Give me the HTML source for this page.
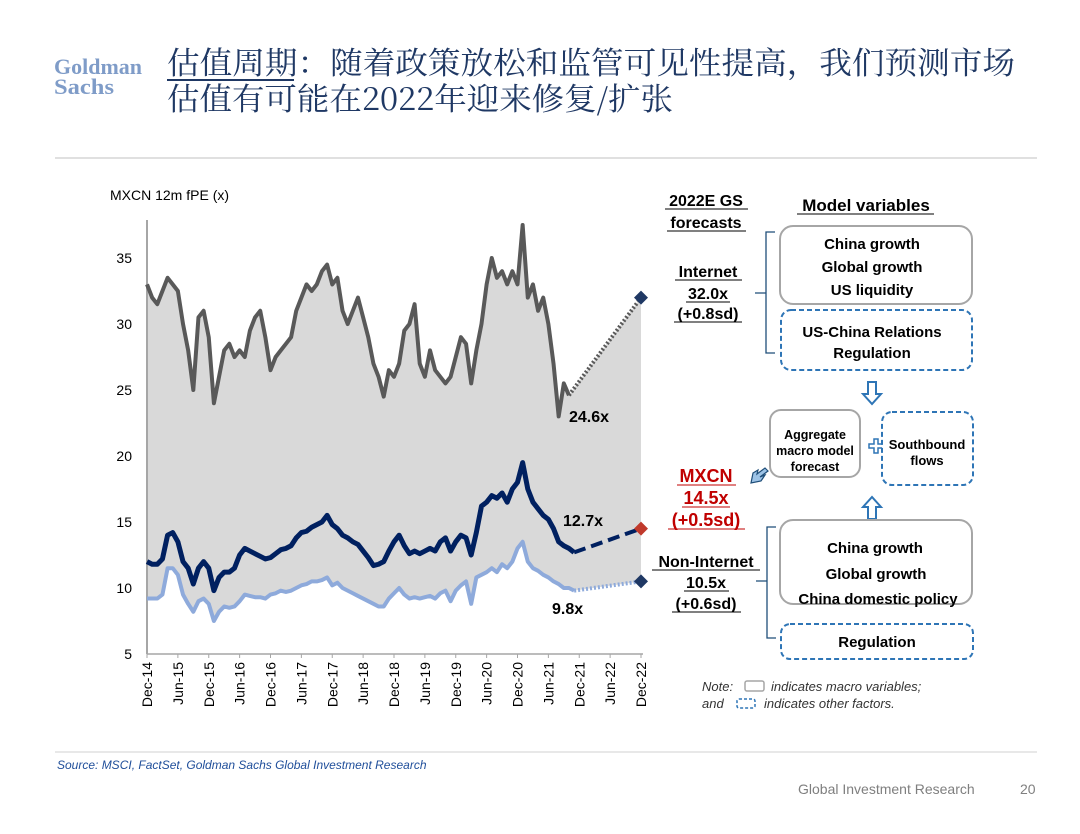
<!DOCTYPE html>
<html><head><meta charset="utf-8">
<style>
html,body{margin:0;padding:0;background:#fff;}
body{width:1080px;height:834px;overflow:hidden;position:relative;font-family:"Liberation Sans","Noto Sans CJK SC",sans-serif;}
svg{position:absolute;left:0;top:0;}
</style></head>
<body>
<svg id="page" width="1080" height="834" viewBox="0 0 1080 834" xmlns="http://www.w3.org/2000/svg">
  <g font-family="'Liberation Serif',serif" font-weight="bold" fill="#7f9cc8" font-size="22">
    <text x="54" y="74" textLength="88" lengthAdjust="spacingAndGlyphs">Goldman</text>
    <text x="54" y="94" textLength="60" lengthAdjust="spacingAndGlyphs">Sachs</text>
  </g>
  <g font-family="'Noto Serif CJK SC','Noto Sans CJK SC',serif" font-size="31" fill="#1f3864">
    <text x="167" y="74" textLength="848" lengthAdjust="spacingAndGlyphs">估值周期：随着政策放松和监管可见性提高，我们预测市场</text>
    <text x="167" y="110" textLength="506" lengthAdjust="spacingAndGlyphs">估值有可能在2022年迎来修复/扩张</text>
    <line x1="167" y1="80" x2="294" y2="80" stroke="#1f3864" stroke-width="2"/>
  </g>
  <line x1="55" y1="158" x2="1037" y2="158" stroke="#e0e0e0" stroke-width="2"/>

  <g id="chart"></g>

  <!-- right panel -->
  <g font-family="'Liberation Sans',sans-serif" font-weight="bold" text-anchor="middle">
    <g font-size="16" fill="#000">
      <text x="706" y="206">2022E GS</text><text x="706" y="228">forecasts</text>
      <line x1="665" y1="209" x2="748" y2="209" stroke="#000"/><line x1="667" y1="231" x2="746" y2="231" stroke="#000"/>
    </g>
    <g font-size="17">
      <text x="866" y="211">Model variables</text>
      <line x1="797" y1="214" x2="934" y2="214" stroke="#000"/>
    </g>
    <g font-size="16">
      <text x="708" y="277">Internet</text><text x="708" y="299">32.0x</text><text x="708" y="319">(+0.8sd)</text>
      <line x1="675" y1="280" x2="742" y2="280" stroke="#000"/><line x1="686" y1="302" x2="730" y2="302" stroke="#000"/><line x1="674" y1="322" x2="742" y2="322" stroke="#000"/>
    </g>
    <path d="M775 232 H766 V353 H775 M766 293 H755" fill="none" stroke="#1f4e79" stroke-width="1.3"/>
    <rect x="780" y="226" width="192" height="78" rx="13" fill="#fff" stroke="#a6a6a6" stroke-width="2"/>
    <g font-size="15"><text x="872" y="249">China growth</text><text x="872" y="272">Global growth</text><text x="872" y="295">US liquidity</text></g>
    <rect x="781" y="310" width="191" height="60" rx="10" fill="#fff" stroke="#2e75b6" stroke-width="2" stroke-dasharray="5,3"/>
    <g font-size="15"><text x="872" y="337">US-China Relations</text><text x="872" y="358">Regulation</text></g>
    <path d="M868 382 h8 v12 h5 l-9 10 l-9 -10 h5 z" fill="#fff" stroke="#2e75b6" stroke-width="2"/>
    <rect x="770" y="410" width="90" height="67" rx="11" fill="#fff" stroke="#a6a6a6" stroke-width="2"/>
    <g font-size="12.5"><text x="815" y="439">Aggregate</text><text x="815" y="455">macro model</text><text x="815" y="471">forecast</text></g>
    <path d="M869 444 h5 v-5 h4 v5 h5 v4 h-5 v5 h-4 v-5 h-5 z" fill="#fff" stroke="#2e75b6" stroke-width="1.5"/>
    <rect x="882" y="412" width="91" height="73" rx="10" fill="#fff" stroke="#2e75b6" stroke-width="2" stroke-dasharray="5,3"/>
    <g font-size="13"><text x="927" y="449">Southbound</text><text x="927" y="465">flows</text></g>
    <path d="M868 519 h8 v-12 h5 l-9 -10 l-9 10 h5 z" fill="#fff" stroke="#2e75b6" stroke-width="2"/>
    <path d="M765 475 l-4 6 l-10 2 l2 -10 l5 -3 l-1 4 l8 -6 l3 3 l-8 6 z" fill="#9dc3e6" stroke="#1f4e79" stroke-width="1.2"/>
    <g font-size="18" fill="#c00000">
      <text x="706" y="482">MXCN</text><text x="706" y="504">14.5x</text><text x="706" y="526">(+0.5sd)</text>
      <line x1="677" y1="485" x2="736" y2="485" stroke="#c00000"/><line x1="682" y1="507" x2="730" y2="507" stroke="#c00000"/><line x1="668" y1="529" x2="745" y2="529" stroke="#c00000"/>
    </g>
    <g font-size="16">
      <text x="706" y="567">Non-Internet</text><text x="706" y="588">10.5x</text><text x="706" y="609">(+0.6sd)</text>
      <line x1="652" y1="570" x2="760" y2="570" stroke="#000"/><line x1="684" y1="591" x2="729" y2="591" stroke="#000"/><line x1="672" y1="612" x2="741" y2="612" stroke="#000"/>
    </g>
    <path d="M776 527 H767 V638 H776 M767 581 H756" fill="none" stroke="#1f4e79" stroke-width="1.3"/>
    <rect x="780" y="520" width="192" height="84" rx="13" fill="#fff" stroke="#a6a6a6" stroke-width="2"/>
    <g font-size="15"><text x="875" y="553">China growth</text><text x="876" y="579">Global growth</text><text x="878" y="604">China domestic policy</text></g>
    <rect x="781" y="624" width="192" height="35" rx="9" fill="#fff" stroke="#2e75b6" stroke-width="2" stroke-dasharray="5,3"/>
    <text x="877" y="647" font-size="15">Regulation</text>
  </g>
  <g font-family="'Liberation Sans',sans-serif" font-style="italic" font-size="13" fill="#333">
    <text x="702" y="691">Note:</text>
    <rect x="745" y="681" width="19" height="10" rx="2" fill="none" stroke="#a6a6a6" stroke-width="1.5"/>
    <text x="771" y="691">indicates macro variables;</text>
    <text x="702" y="708">and</text>
    <rect x="737" y="699" width="18" height="9" rx="2" fill="none" stroke="#2e75b6" stroke-width="1.5" stroke-dasharray="3,2"/>
    <text x="764" y="708">indicates other factors.</text>
  </g>
  <line x1="55" y1="752" x2="1037" y2="752" stroke="#e0e0e0" stroke-width="1.5"/>
  <text x="57" y="769" font-family="'Liberation Sans',sans-serif" font-style="italic" font-size="12" fill="#1f4e9a">Source: MSCI, FactSet, Goldman Sachs Global Investment Research</text>
  <text x="798" y="794" font-family="'Liberation Sans',sans-serif" font-size="14" fill="#7f7f7f">Global Investment Research</text>
  <text x="1020" y="794" font-family="'Liberation Sans',sans-serif" font-size="14" fill="#7f7f7f">20</text>
</svg>
<script>
// monthly data starting Dec-14
const internet = [33,
 32,31.5,32.5,33.5,33,32.5,30,28,25,30.5,31,29,
 24,26,28,28.5,27.5,28,27.5,29.5,30.5,31,29,26.5,
 27.5,28,28.5,29,31,32,33,32.5,33,34,34.5,33,
 33.5,31,30,31,32,30.5,29,27,26,24.5,26.5,26,
 27,29.5,30,31.5,27,26,28,26.5,26,25.5,26,27.5,
 29,28.5,25.5,28,30,33,35,33.5,34,33,34,33,
 37.5,32,33,31,32,30,27,23,25.5,24.6];
const mxcn = [12,
 11.8,11.8,12.2,14,14.2,13.5,12,11.5,10.3,11.5,12,11.5,
 9.8,10.8,11.2,11.2,11.5,12.5,13,12.8,12.6,12.4,12.2,12.3,
 12.6,12.9,13,13.2,13.8,14.2,14.3,14.6,14.8,15,15.5,14.8,
 14.5,14,13.8,13.5,13.3,12.8,12.3,11.7,11.8,12,12.8,13.5,
 14,13.2,12.6,12.8,12.6,12.8,13,12.8,13.5,13.8,12.8,13.5,
 14,13.8,12.5,14.2,16.2,16.5,17,16.8,17.2,16.5,17.5,18,
 19.5,17.5,16.5,16,15.5,15.2,14.5,13.5,13.2,13,12.7];
const nonInternet = [9.2,
 9.2,9.2,9.5,11.5,11.5,11,9.5,8.8,8.2,9,9.2,8.8,
 7.5,8.2,8.6,8.5,8.6,9,9.5,9.4,9.3,9.3,9.2,9.5,
 9.6,9.8,9.7,9.8,10,10.2,10.3,10.5,10.5,10.6,10.8,10.2,
 10.4,10,9.8,9.6,9.4,9.2,9,8.8,8.6,8.6,9.2,9.6,
 10,9.5,9.2,9.3,9.2,9.3,9.4,9.2,9.6,9.8,9,9.8,
 10.2,10.5,8.8,10.8,11,11.2,11.5,11.2,11.8,11.5,12,13,
 13.5,12,11.5,11.3,11,10.8,10.5,10.3,10,10,9.8];
const forecastInternet = 32.0;
const forecastMxcn = 14.5;
const forecastNonInternet = 10.5;
const yTicks = [5,10,15,20,25,30,35];
const xTickLabels = ["Dec-14","Jun-15","Dec-15","Jun-16","Dec-16","Jun-17","Dec-17","Jun-18","Dec-18","Jun-19","Dec-19","Jun-20","Dec-20","Jun-21","Dec-21","Jun-22","Dec-22"];
const lastLabels = ["24.6x","12.7x","9.8x"];

const NS="http://www.w3.org/2000/svg";
const g=document.getElementById('chart');
const X0=147,X1=641,Y5=654,Y35=258,TOTAL=96;
const xs=i=>X0+(X1-X0)*i/TOTAL;
const ys=v=>Y5+(v-5)*(Y35-Y5)/30;
function el(t,a){const e=document.createElementNS(NS,t);for(const k in a)e.setAttribute(k,a[k]);g.appendChild(e);return e;}
const n=internet.length, fi=TOTAL;
// fill between internet and non-internet (incl. forecast)
let d='M'+internet.map((v,i)=>xs(i)+','+ys(v)).join(' L')+' L'+xs(fi)+','+ys(forecastInternet)+' L'+xs(fi)+','+ys(forecastNonInternet);
for(let i=nonInternet.length-1;i>=0;i--) d+=' L'+xs(i)+','+ys(nonInternet[i]);
d+='Z';
let e=el('path',{d:d,fill:'#d9d9d9'});


// axis
e=el('line',{x1:X0,y1:220,x2:X0,y2:Y5,stroke:'#a6a6a6','stroke-width':2});


e=el('line',{x1:X0,y1:Y5,x2:X1+2,y2:Y5,stroke:'#a6a6a6','stroke-width':1.5});


yTicks.forEach(v=>{
  const t=el('text',{x:132,y:ys(v)+5,'text-anchor':'end','font-size':14,fill:'#000','font-family':'Liberation Sans,sans-serif'});
  t.textContent=v;
  
  
});
xTickLabels.forEach((s,i)=>{
  const x=xs(i*6);
  el('line',{x1:x,y1:Y5,x2:x,y2:Y5+4,stroke:'#a6a6a6'});
  const t=el('text',{x:0,y:0,transform:`translate(${x+5},${Y5+8}) rotate(-90)`,'text-anchor':'end','font-size':14,fill:'#000','font-family':'Liberation Sans,sans-serif'});
  t.textContent=s;
  
  
});
const t0=el('text',{x:110,y:200,'font-size':14,fill:'#000','font-family':'Liberation Sans,sans-serif'});
t0.textContent='MXCN 12m fPE (x)';


function series(arr,color,w,name,fc,dash,fname){
  const p=el('path',{d:'M'+arr.map((v,i)=>xs(i)+','+ys(v)).join(' L'),fill:'none',stroke:color,'stroke-width':w,'stroke-linejoin':'round'});
  
  
  const l=el('line',{x1:xs(arr.length-1),y1:ys(arr[arr.length-1]),x2:xs(fi),y2:ys(fc),stroke:color,'stroke-width':dash[1],'stroke-dasharray':dash[0]});
  
  
}
series(nonInternet,'#8eaadb',4,'non-internet-line',forecastNonInternet,['2,2',4],'non-internet-forecast-line');
series(internet,'#595959',4,'internet-line',forecastInternet,['2,2',4],'internet-forecast-line');
series(mxcn,'#002060',5,'mxcn-line',forecastMxcn,['12,6',4],'mxcn-forecast-line');
function diamond(v,color,name){
  const x=xs(fi),y=ys(v),r=7;
  const p=el('path',{d:`M${x} ${y-r} L${x+r} ${y} L${x} ${y+r} L${x-r} ${y}Z`,fill:color});
  
  
}
diamond(forecastInternet,'#1f3864','internet-forecast-marker');
diamond(forecastMxcn,'#c0392b','mxcn-forecast-marker');
diamond(forecastNonInternet,'#1f3864','non-internet-forecast-marker');
[[569,422],[563,526],[552,614]].forEach((p,i)=>{
  const t=el('text',{x:p[0],y:p[1],'font-size':16,'font-weight':'bold',fill:'#000','font-family':'Liberation Sans,sans-serif'});
  t.textContent=lastLabels[i];
  
  
});
</script>
</body></html>
